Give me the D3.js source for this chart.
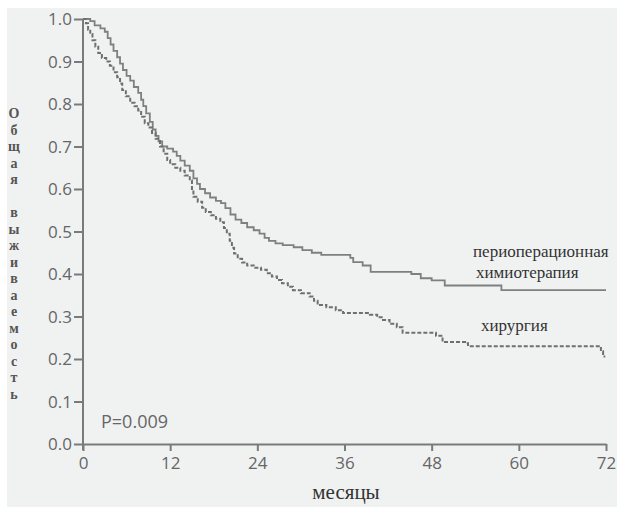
<!DOCTYPE html>
<html><head><meta charset="utf-8">
<script src="https://cdn.jsdelivr.net/npm/d3@7"></script>
<style>html,body{margin:0;padding:0;background:#fff;}svg{display:block;}</style>
</head><body>
<svg id="chart" width="617" height="507"></svg>
<script>
// ---- data ----
const xTicks = [0, 12, 24, 36, 48, 60, 72];
const yTicks = [0, 0.1, 0.2, 0.3, 0.4, 0.5, 0.6, 0.7, 0.8, 0.9, 1.0];
const xTitle = "месяцы";
const yTitle = "Общая выживаемость";
const pLabel = "P=0.009";
const chemoName = ["периоперационная", "химиотерапия"];
const surgName = "хирургия";

const chemoTime = [0,1.0,1.6,2.4,3.0,3.4,3.8,4.2,4.7,5.1,5.5,6.0,6.5,7.0,7.6,8.0,8.3,8.7,9.2,9.6,10.0,10.4,10.9,11.6,12.4,12.9,13.4,14.0,14.7,15.2,15.7,16.1,16.8,17.5,18.3,19.0,19.6,20.3,21.0,21.8,22.6,23.5,24.3,25.0,25.6,26.5,27.5,29.0,30.2,31.5,32.8,36.8,37.2,38.5,39.6,45.2,46.5,48.0,49.8,57.6,72];
const chemoSurv = [1.0,0.995,0.985,0.978,0.97,0.955,0.94,0.925,0.91,0.895,0.88,0.866,0.855,0.84,0.826,0.81,0.795,0.778,0.758,0.74,0.725,0.712,0.70,0.695,0.688,0.678,0.667,0.655,0.643,0.625,0.612,0.60,0.59,0.58,0.572,0.567,0.555,0.54,0.528,0.52,0.51,0.503,0.495,0.485,0.478,0.472,0.468,0.463,0.456,0.45,0.445,0.438,0.428,0.42,0.405,0.40,0.39,0.385,0.373,0.362,0.362];

const surgTime = [0,0.4,0.7,1.0,1.3,1.7,2.1,2.6,3.2,3.7,4.2,4.7,5.1,5.4,5.9,6.5,7.1,7.6,8.0,8.5,9.0,9.5,10.0,10.6,11.1,11.6,12.0,12.7,13.4,14.0,14.7,15.0,15.2,15.8,16.4,16.9,17.6,18.3,18.9,19.4,19.8,20.2,20.5,20.8,21.3,21.9,22.6,23.5,24.5,25.3,26.0,26.7,27.4,28.2,28.9,30.0,31.2,31.8,32.3,33.5,34.8,35.8,39.5,40.5,41.3,42.2,43.2,44.0,48.6,49.5,52.6,53.0,71.3,71.6,71.9];
const surgSurv = [1.0,0.99,0.975,0.965,0.95,0.935,0.92,0.908,0.90,0.89,0.875,0.863,0.848,0.833,0.818,0.803,0.795,0.785,0.77,0.755,0.745,0.732,0.718,0.70,0.683,0.668,0.658,0.65,0.643,0.632,0.62,0.60,0.582,0.57,0.556,0.546,0.538,0.53,0.522,0.508,0.495,0.478,0.462,0.448,0.436,0.427,0.42,0.415,0.41,0.402,0.394,0.386,0.378,0.37,0.362,0.355,0.347,0.337,0.327,0.322,0.315,0.308,0.304,0.298,0.292,0.283,0.275,0.262,0.255,0.24,0.237,0.23,0.218,0.206,0.206];

// ---- layout ----
const svg = d3.select("#chart");
svg.append("rect").attr("x", 7).attr("y", 8).attr("width", 610).attr("height", 499).attr("fill", "#f0f2f2");

const x = d3.scaleLinear().domain([0, 72]).range([83, 606]);
const y = d3.scaleLinear().domain([0, 1]).range([444, 19]);
const axisColor = "#7a7a7a";
const labelColor = "#666";

const gx = svg.append("g").attr("transform", "translate(0,444)")
  .call(d3.axisBottom(x).tickValues(xTicks).tickFormat(d3.format("d")).tickSize(7).tickSizeOuter(0));
const gy = svg.append("g").attr("transform", "translate(83,0)")
  .call(d3.axisLeft(y).tickValues(yTicks).tickFormat(d3.format(".1f")).tickSize(9).tickSizeOuter(0));
[gx, gy].forEach(g => {
  g.select(".domain").attr("stroke", axisColor).attr("stroke-width", 2);
  g.selectAll(".tick line").attr("stroke", axisColor).attr("stroke-width", 2);
  g.selectAll(".tick text").attr("fill", labelColor).attr("font-family", "'Open Sans', sans-serif").attr("font-size", 17);
});
gx.selectAll(".tick text").attr("dy", "0.95em").attr("y", 9);
gy.selectAll(".tick text").attr("x", -11).attr("dy", "0.34em");
gy.select(".domain").attr("d", `M0,${y(1)}V${y(0)+6}`);

// curves
const line = d3.line().x(d => x(d[0])).y(d => y(d[1])).curve(d3.curveStepAfter);
const chemo = chemoTime.map((t, i) => [t, chemoSurv[i]]);
const surg = surgTime.map((t, i) => [t, surgSurv[i]]);
svg.append("path").datum(chemo).attr("d", line).attr("fill", "none")
  .attr("stroke", "#7f7f7f").attr("stroke-width", 1.8);
svg.append("path").datum(surg).attr("d", line).attr("fill", "none")
  .attr("stroke", "#6f6f6f").attr("stroke-width", 2).attr("stroke-dasharray", "4,2");

// annotations
const serif = "'Liberation Serif', 'DejaVu Serif', serif";
svg.append("text").attr("x", 473).attr("y", 257).text(chemoName[0])
  .attr("font-family", serif).attr("font-size", 17).attr("fill", "#333");
svg.append("text").attr("x", 476).attr("y", 278).text(chemoName[1])
  .attr("font-family", serif).attr("font-size", 17).attr("fill", "#333");
svg.append("text").attr("x", 481).attr("y", 331).text(surgName)
  .attr("font-family", serif).attr("font-size", 17).attr("fill", "#333");

svg.append("text").attr("x", 101).attr("y", 428).text(pLabel)
  .attr("font-family", "'Open Sans', sans-serif").attr("font-size", 18).attr("fill", labelColor);

svg.append("text").attr("x", 346).attr("y", 499).attr("text-anchor", "middle").text(xTitle)
  .attr("font-family", serif).attr("font-size", 21).attr("fill", "#333");

// vertical stacked y title
const letters = Array.from(yTitle);
const yt = svg.append("text").attr("font-family", serif).attr("font-size", 14)
  .attr("font-weight", "bold").attr("fill", "#555").attr("text-anchor", "middle");
letters.forEach((ch, i) => {
  if (ch === " ") return;
  yt.append("tspan").attr("x", 14).attr("y", 118 + i * 16.5).text(ch);
});
</script>
</body></html>
